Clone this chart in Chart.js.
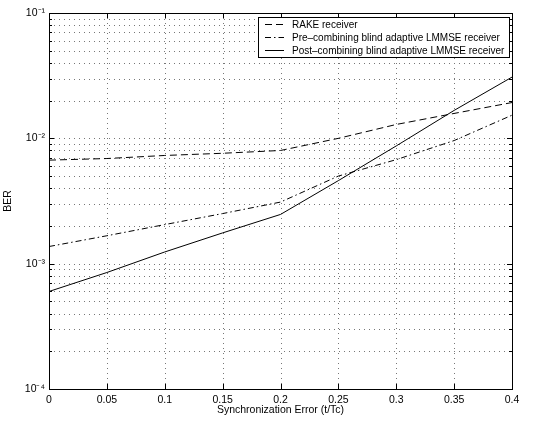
<!DOCTYPE html>
<html><head><meta charset="utf-8">
<script src="https://cdn.jsdelivr.net/npm/chart.js@4/dist/chart.umd.min.js"></script>
<style>html,body{margin:0;padding:0;background:#fff}#wrap{width:544px;height:423px}</style>
</head><body><div id="wrap"><canvas id="c" width="544" height="423"></canvas></div>
<script>
const xValues = [0, 0.05, 0.1, 0.15, 0.2, 0.25, 0.3, 0.35, 0.4];
const rakeBER = [6.7e-3, 6.9e-3, 7.3e-3, 7.6e-3, 8.0e-3, 1.0e-2, 1.29e-2, 1.58e-2, 1.93e-2];
const preBER  = [1.37e-3, 1.67e-3, 2.05e-3, 2.51e-3, 3.1e-3, 5.0e-3, 6.76e-3, 9.6e-3, 1.53e-2];
const postBER = [6.0e-4, 8.5e-4, 1.24e-3, 1.76e-3, 2.47e-3, 4.6e-3, 8.7e-3, 1.67e-2, 3.08e-2];
const seriesNames = ['RAKE receiver', 'Pre\u2013combining blind adaptive LMMSE receiver', 'Post\u2013combining blind adaptive LMMSE receiver'];
const xTickLabels = ['0', '0.05', '0.1', '0.15', '0.2', '0.25', '0.3', '0.35', '0.4'];
const yDecades = [1e-4, 1e-3, 1e-2, 1e-1];
const yDecadeLabels = ['10\u207B\u2074', '10\u207B\u00B3', '10\u207B\u00B2', '10\u207B\u00B9'];
const xTitle = 'Synchronization Error (t/Tc)';
const yTitle = 'BER';

const FONT = 'Liberation Sans, Arial, Helvetica, sans-serif';
const yTickValues = [];
for (let e = -4; e < -1; e++) for (let m = 1; m < 10; m++) yTickValues.push(+(m * Math.pow(10, e)).toPrecision(3));
yTickValues.push(1e-1);
const isDecade = v => yDecades.some(d => Math.abs(d - v) / d < 1e-6);

const styles = [
  {dash: [7, 4]},
  {dash: [6, 3, 1.5, 3]},
  {dash: []}
];
const seriesData = [rakeBER, preBER, postBER];

const gridPlugin = {
  id: 'dotgrid',
  beforeDatasetsDraw(chart) {
    const {ctx, chartArea: a, scales: {x, y}} = chart;
    ctx.save();
    ctx.strokeStyle = '#777';
    ctx.lineWidth = 1;
    ctx.setLineDash([1, 4]);
    ctx.beginPath();
    x.ticks.forEach(t => {
      const px = Math.round(x.getPixelForValue(t.value)) + 0.5;
      ctx.moveTo(px, a.bottom); ctx.lineTo(px, a.top);
    });
    y.ticks.forEach(t => {
      const py = Math.round(y.getPixelForValue(t.value)) + 0.5;
      ctx.moveTo(a.left, py); ctx.lineTo(a.right, py);
    });
    ctx.stroke();
    ctx.restore();
  }
};

const framePlugin = {
  id: 'frame',
  afterDatasetsDraw(chart) {
    const {ctx, chartArea: a, scales: {x, y}} = chart;
    ctx.save();
    ctx.strokeStyle = '#000';
    ctx.lineWidth = 1;
    ctx.setLineDash([]);
    ctx.strokeRect(Math.round(a.left) + 0.5, Math.round(a.top) + 0.5, Math.round(a.right - a.left), Math.round(a.bottom - a.top));
    ctx.beginPath();
    x.ticks.forEach(t => {
      const px = Math.round(x.getPixelForValue(t.value)) + 0.5;
      ctx.moveTo(px, a.bottom); ctx.lineTo(px, a.bottom - 5);
      ctx.moveTo(px, a.top); ctx.lineTo(px, a.top + 5);
    });
    y.ticks.forEach(t => {
      const py = Math.round(y.getPixelForValue(t.value)) + 0.5;
      const L = isDecade(t.value) ? 5 : 3;
      ctx.moveTo(a.left, py); ctx.lineTo(a.left + L, py);
      ctx.moveTo(a.right, py); ctx.lineTo(a.right - L, py);
    });
    ctx.stroke();
    // legend
    const bx = 258.5, by = 17.5, bw = 251, bh = 40;
    ctx.fillStyle = '#fff';
    ctx.fillRect(bx, by, bw, bh);
    ctx.strokeRect(bx, by, bw, bh);
    ctx.font = '10px ' + FONT;
    ctx.textBaseline = 'middle';
    ctx.fillStyle = '#000';
    const rows = [24.5, 37.5, 50.5];
    chart.data.datasets.forEach((ds, i) => {
      ctx.setLineDash(ds.borderDash || []);
      ctx.beginPath();
      ctx.moveTo(265, rows[i]); ctx.lineTo(284, rows[i]);
      ctx.stroke();
      ctx.setLineDash([]);
      ctx.fillText(ds.label, 292, rows[i] + 0.5);
    });
    ctx.restore();
  }
};

new Chart(document.getElementById('c'), {
  type: 'line',
  data: {
    datasets: seriesNames.map((name, i) => ({
      label: name,
      data: xValues.map((xv, j) => ({x: xv, y: seriesData[i][j]})),
      borderColor: '#000',
      borderWidth: 1,
      borderDash: styles[i].dash,
      pointRadius: 0,
      tension: 0,
      fill: false
    }))
  },
  options: {
    responsive: false,
    animation: false,
    devicePixelRatio: 1,
    layout: {padding: {top: 13, right: 32, left: 2, bottom: 0}},
    plugins: {legend: {display: false}, tooltip: {enabled: false}},
    scales: {
      x: {
        type: 'linear', min: 0, max: 0.4,
        ticks: {stepSize: 0.05, color: '#000', padding: 5, font: {family: FONT, size: 10.5},
          callback: (v, i) => xTickLabels[i], maxRotation: 0, autoSkip: false},
        grid: {display: false, drawTicks: false},
        border: {display: false},
        title: {display: true, text: xTitle, color: '#000', font: {family: FONT, size: 10.5}, padding: {top: 0, bottom: 7}},
        afterFit: s => { s.height = 34; }
      },
      y: {
        type: 'logarithmic', min: 1e-4, max: 1e-1,
        afterBuildTicks: s => { s.ticks = yTickValues.map(v => ({value: v, major: isDecade(v)})); },
        ticks: {color: '#000', padding: 4, autoSkip: false, font: {family: FONT, size: 10.5},
          callback: v => { const k = yDecades.findIndex(d => Math.abs(d - v) / d < 1e-6); return k >= 0 ? yDecadeLabels[k] : ''; }},
        grid: {display: false, drawTicks: false},
        border: {display: false},
        title: {display: true, text: yTitle, color: '#000', font: {family: FONT, size: 10.5}, padding: 0},
        afterFit: s => { s.width = 47; }
      }
    }
  },
  plugins: [gridPlugin, framePlugin]
});
</script>
</body></html>
